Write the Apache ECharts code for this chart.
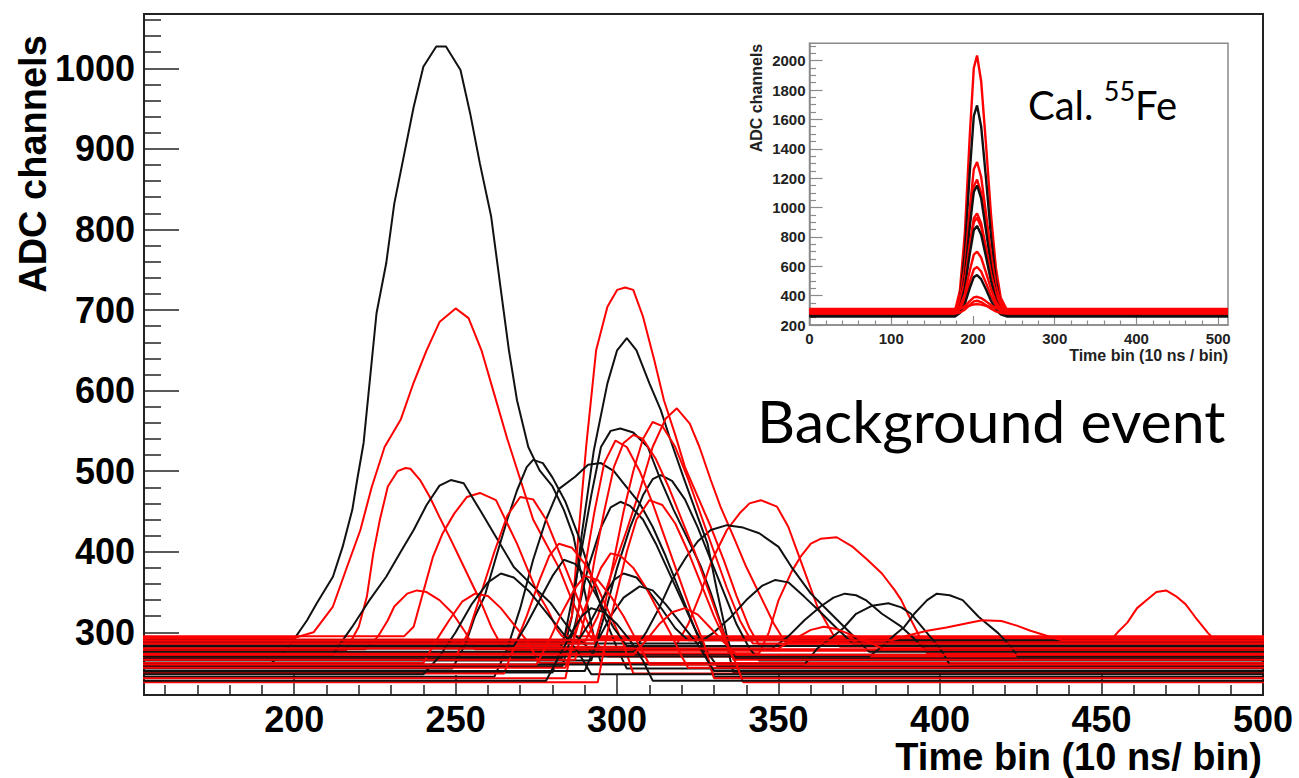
<!DOCTYPE html>
<html><head><meta charset="utf-8">
<script src="https://cdn.jsdelivr.net/npm/echarts@6/dist/echarts.min.js"></script>
<style>html,body{margin:0;padding:0;background:#fff}#c{width:1299px;height:778px}</style>
</head><body><div id="c"></div>
<script>
// ---------- tick values ----------
const xTicksMain = [200, 250, 300, 350, 400, 450, 500];
const xMinorMain = [160,170,180,190,210,220,230,240,260,270,280,290,310,320,330,340,360,370,380,390,410,420,430,440,460,470,480,490];
const yTicksMain = [300, 400, 500, 600, 700, 800, 900, 1000];
const yMinorMain = [240,260,280,320,340,360,380,420,440,460,480,520,540,560,580,620,640,660,680,720,740,760,780,820,840,860,880,920,940,960,980,1020,1040,1060];
const xTicksInset = [0, 100, 200, 300, 400, 500];
const xMinorInset = [20,40,60,80,120,140,160,180,220,240,260,280,320,340,360,380,420,440,460,480];
const yTicksInset = [200, 400, 600, 800, 1000, 1200, 1400, 1600, 1800, 2000];
const yMinorInset = [250,300,350,450,500,550,650,700,750,850,900,950,1050,1100,1150,1250,1300,1350,1450,1500,1550,1650,1700,1750,1850,1900,1950,2050,2100];

// ---------- main panel: black traces (time bin, ADC) ----------
const B1 = [[193,262],[198,280],[204,315],[207,336],[212,369],[215,406],[218,452],[219.5,489],[221.5,535],[225.5,696],[228.5,758],[231,832],[233.5,882],[237,952],[240,1002],[244,1027],[247,1027],[251.5,998],[254.5,944],[257.5,882],[261,816],[264,725],[266.5,650],[269,588],[272.5,530],[276,501],[280,481],[283.5,452],[286.5,419],[290,350],[293,290],[295,262]];
const B2 = [[283,268],[286,320],[289,420],[292.8,526],[297,609],[300,650],[303,665],[306,650],[310,609],[313.5,576],[316.5,539],[320.5,493],[325,443],[328,410],[331,350],[334,295],[336,268]];
const B3 = [[280,250],[284,300],[288,380],[292,470],[295,530],[298,550],[301,553],[305,548],[309.5,530],[313.5,489],[317.5,452],[321.5,419],[326,381],[329,349],[333,300],[336,250]];
const B4 = [[249,255],[253,285],[256,320],[259,345],[263,400],[266,440],[269,476],[272,505],[274,514],[277,510],[280,492],[284,462],[288,420],[292,370],[296,320],[300,280],[303,255]];
const B5 = [[262,245],[266,280],[270,330],[274,390],[278,440],[282,478],[287,493],[291,508],[295,510],[299,500],[302,485],[307,460],[311,431],[315,395],[319,355],[323,315],[327,275],[330,245]];
const B6 = [[212,272],[215,290],[218,307],[223,338],[228.5,369],[233,400],[237,427],[241,458],[245,482],[248.5,489],[252.5,485],[257.5,452],[263,415],[268,381],[274,357],[279.5,336],[282.5,319],[286,300],[290,285],[293,272]];
const B7 = [[283,258],[287,310],[291,380],[295,430],[298,455],[301,462],[304,457],[308,440],[312,410],[316,375],[320,340],[324,305],[328,275],[331,258]];
const B8 = [[292,265],[296,320],[300,380],[304,430],[308,470],[311,490],[313.5,495],[317,488],[321,465],[325,430],[329,390],[333,350],[337,310],[341,280],[344,265]];
const B9 = [[305,276],[309,300],[313,330],[317,365],[321.5,394],[325,413],[329,427],[334,433],[339,430],[344,423],[350,406],[354,381],[360,348],[366,324],[372,300],[378,276]];
const B10 = [[325,286],[330,300],[335,318],[340,340],[345,358],[349,365],[353,362],[358,344],[363,325],[368,305],[373,286]];
const B11 = [[348,280],[353,295],[358,315],[363,332],[367,343],[370.5,348],[374,346],[377,340],[382,323],[388,307],[392,292],[395,280]];
const B12 = [[358,260],[362,280],[366,292],[370,305],[374,323],[379,333],[384,336],[388,331],[391,323],[396,299],[400,280],[403,260]];
const B13 = [[378,270],[382,282],[386,297],[389,307],[392,323],[396,340],[399,348],[403,346],[407,340],[412,319],[418,299],[422,282],[424,270]];
const B14 = [[240,248],[245,270],[250,300],[255,335],[260,362],[264,373],[268,368],[273,350],[278,325],[283,300],[288,275],[292,248]];
const B15 = [[268,283],[272,310],[276,340],[280,370],[283.5,390],[287,385],[291,365],[295,335],[299,305],[303,283]];
const B16 = [[288,290],[292,315],[296,345],[299,365],[302,373],[306,368],[310,350],[314,328],[318,305],[322,290]];
const B17 = [[290,252],[294,290],[298,320],[302,343],[307,357],[311,352],[315,335],[320,310],[325,285],[330,252]];
const B18 = [[278,240],[282,270],[286,300],[289,320],[292,330],[296,325],[300,310],[304,290],[308,265],[311,240]];

// ---------- main panel: red traces ----------
const R1 = [[200,293],[206,300],[212,332],[216,377],[220.5,427],[224,480],[228,530],[233,564],[237,610],[241,650],[245,685],[250,702],[254,690],[258,650],[262,595],[266,540],[270,490],[274,440],[278,410],[282,380],[286,340],[290,305],[292,293]];
const R2 = [[283,284],[286,320],[288,420],[290.5,534],[293.5,650],[297,704],[300,725],[302.5,728],[305,725],[308,692],[311.5,638],[314.5,588],[318,545],[321,505],[325,468],[329,431],[333,390],[337,345],[341,305],[344,284]];
const R3 = [[290,288],[294,320],[298,370],[303,427],[307,476],[311,530],[315,565],[318.5,578],[322.5,559],[325.5,530],[329,489],[332,456],[336,419],[340,381],[344.5,344],[348.5,311],[352,288]];
const R4 = [[216,277],[220,307],[222.5,344],[224.5,398],[226.5,439],[229,481],[232,500],[234.5,504],[236,503],[239,489],[242,468],[245,443],[248.5,415],[251.5,390],[254.5,365],[258,336],[261,307],[264,285],[266,277]];
const R5 = [[234,295],[237,307],[239,336],[241,365],[243,394],[246,423],[249.5,447],[253.5,468],[257.5,473],[262.5,464],[266,435],[269,410],[272,381],[275,352],[278.5,328],[281.5,303],[283,295]];
const R6 = [[318,282],[322,310],[326,350],[329,386],[334,427],[338,448],[341,460],[344.5,464],[349.5,456],[353,431],[356,398],[359,365],[362,332],[365.5,307],[369,282]];
const R7 = [[344,274],[347,300],[350,340],[354,375],[357,395],[360,410],[363,416],[368,418],[373,406],[377.5,390],[382,373],[386,352],[388,340],[390,323],[393,300],[396,274]];
const R8 = [[453,291],[455,300],[458,312],[461,330],[464,340],[467,350],[470,352],[473,345],[476,335],[479,319],[483,299],[485,291]];
const R9 = [[222,279],[226,295],[229,315],[231,332],[235,348],[238,352],[241,350],[245,340],[249,324],[253,300],[256,279]];
const R10 = [[250,270],[254,300],[258,350],[262,400],[266,445],[270,468],[274,465],[278,440],[282,400],[286,360],[290,320],[294,285],[297,270]];
const R11 = [[240,262],[244,290],[248,315],[252,338],[256,348],[260,345],[264,330],[268,310],[272,290],[276,262]];
const R12 = [[265,249],[268,280],[272,320],[276,365],[279,395],[282,410],[286,405],[290,385],[294,355],[298,320],[302,285],[305,249]];
const R13 = [[287,266],[290,320],[293,390],[296,450],[299,505],[302,535],[305,545],[308,540],[312,515],[316,480],[320,440],[324,400],[328,355],[332,310],[336,266]];
const R14 = [[293,286],[296,330],[299,390],[302,450],[305,500],[308,540],[311,561],[314,556],[318,530],[322,490],[326,445],[330,400],[334,355],[338,315],[342,286]];
const R15 = [[284,243],[287,300],[290,380],[293,450],[296,510],[299.5,538],[303,530],[307,500],[311,460],[315,415],[319,370],[323,325],[327,285],[330,243]];
const R16 = [[284,256],[288,310],[292,350],[295,380],[298,398],[301,395],[305,380],[309,355],[313,325],[317,295],[320,270],[322,256]];
const R17 = [[294,238],[297,300],[300,350],[303,400],[306,440],[310,464],[314,458],[318,435],[322,400],[326,360],[330,320],[334,285],[337,260],[339,238]];
const R18 = [[385,290],[390,296],[396,302],[402,306],[408,311],[413,315],[419,314],[424,308],[428,302],[432,297],[436,292],[438,290]];
const R19 = [[350,280],[355,292],[360,303],[364,307],[368,304],[373,296],[378,288],[382,280]];
const R20 = [[275,260],[279,290],[283,325],[287,355],[290,370],[294,365],[298,345],[302,320],[306,290],[310,260]];
const R21 = [[305,272],[309,290],[313,310],[317,325],[321,330],[325,322],[329,305],[333,288],[337,272]];

// ---------- inset (55Fe calibration) ----------
const I1 = [[178,296],[184,435],[190,820],[196,1480],[201,1950],[205,2035],[210,1860],[216,1425],[222,955],[228,590],[234,385],[242,296]];
const I2 = [[178,262],[184,377],[190,692],[196,1236],[201,1623],[205,1695],[210,1552],[216,1193],[222,807],[228,506],[234,334],[242,262]];
const I3 = [[178,300],[184,381],[190,603],[196,987],[201,1260],[205,1310],[210,1209],[216,957],[222,684],[228,472],[234,351],[242,300]];
const I4 = [[178,284],[184,356],[190,556],[196,900],[201,1145],[205,1190],[210,1099],[216,873],[222,628],[228,438],[234,329],[242,284]];
const I5 = [[178,266],[184,337],[190,531],[196,867],[201,1106],[205,1150],[210,1062],[216,841],[222,602],[228,416],[234,310],[242,266]];
const I6 = [[178,292],[184,345],[190,492],[196,746],[201,927],[205,960],[210,893],[216,726],[222,546],[228,406],[234,325],[242,292]];
const I7 = [[178,306],[184,356],[190,493],[196,730],[201,899],[205,930],[210,868],[216,712],[222,543],[228,412],[234,337],[242,306]];
const I8 = [[178,270],[184,318],[190,452],[196,681],[201,845],[205,875],[210,815],[216,663],[222,500],[228,373],[234,300],[242,270]];
const I9 = [[178,288],[184,321],[190,412],[196,568],[201,679],[205,700],[210,659],[216,556],[222,445],[228,358],[234,309],[242,288]];
const I10 = [[178,280],[184,305],[190,375],[196,494],[201,579],[205,595],[210,564],[216,485],[222,400],[228,334],[234,296],[242,280]];
const I11 = [[178,258],[184,281],[190,343],[196,450],[201,526],[205,540],[210,512],[216,441],[222,365],[228,306],[234,272],[242,258]];
const I12 = [[178,302],[184,309],[190,329],[196,363],[201,388],[205,392],[210,383],[216,361],[222,336],[228,317],[234,306],[242,302]];
const I13 = [[178,278],[184,285],[190,304],[196,337],[201,361],[205,365],[210,356],[216,335],[222,311],[228,293],[234,282],[242,278]];
const I14 = [[178,310],[184,313],[190,320],[196,332],[201,340],[205,342],[210,339],[216,331],[222,322],[228,315],[234,312],[242,310]];

const blackMain = [B1,B2,B3,B4,B5,B6,B7,B8,B9,B10,B11,B12,B13,B14,B15,B16,B17,B18];
const redMain = [R1,R2,R3,R4,R5,R6,R7,R8,R9,R10,R11,R12,R13,R14,R15,R16,R17,R18,R19,R20,R21];
const insetTraces = [[I1,'r'],[I2,'k'],[I3,'r'],[I4,'r'],[I5,'k'],[I6,'r'],[I7,'r'],[I8,'k'],[I9,'r'],[I10,'r'],[I11,'k'],[I12,'r'],[I13,'r'],[I14,'r']];

const RED = '#ff0000', BLK = '#111111';
const HIST_LO = 0, HIST_HI = 512;
function full(pts){ return [[HIST_LO, pts[0][1]], ...pts, [HIST_HI, pts[pts.length-1][1]]]; }

const series = [];
const n = Math.max(blackMain.length, redMain.length);
for (let i = 0; i < n; i++) {
  if (blackMain[i]) series.push({type:'line', xAxisIndex:0, yAxisIndex:0, data: full(blackMain[i]), showSymbol:false, symbol:'none', lineStyle:{color:BLK, width:2}, silent:true});
  if (redMain[i]) series.push({type:'line', xAxisIndex:0, yAxisIndex:0, data: full(redMain[i]), showSymbol:false, symbol:'none', lineStyle:{color:RED, width:2}, silent:true});
}
insetTraces.forEach(([pts, c]) => {
  series.push({type:'line', xAxisIndex:2, yAxisIndex:2, data: full(pts), showSymbol:false, symbol:'none', lineStyle:{color: c==='r'?RED:BLK, width:2.4}, silent:true});
});

const plain = v => String(v);
const mainFont = {fontFamily:'Liberation Sans', fontWeight:'bold', fontSize:36, color:'#000', formatter: plain};
const insetFont = {fontFamily:'Liberation Sans', fontWeight:'bold', fontSize:15, color:'#222', formatter: plain};
const MAINC = '#222', INC = '#8a8a8a';

const option = {
  animation: false,
  backgroundColor: '#fff',
  grid: [
    {left:144, top:14, width:1119, height:681, show:true, borderColor:MAINC, borderWidth:2, backgroundColor:'transparent'},
    {left:809.5, top:43.3, width:418.5, height:281.7, show:true, borderColor:INC, borderWidth:1.5, backgroundColor:'#fff'}
  ],
  xAxis: [
    {gridIndex:0, type:'value', min:153.5, max:500, axisLine:{show:true, lineStyle:{color:MAINC, width:2}},
     axisTick:{show:true, inside:true, length:20, customValues:xTicksMain, lineStyle:{color:MAINC, width:1.5}},
     axisLabel:Object.assign({customValues:xTicksMain, margin:6, showMinLabel:true, showMaxLabel:true}, mainFont), splitLine:{show:false}},
    {gridIndex:0, type:'value', min:153.5, max:500, position:'bottom', axisLine:{show:false},
     axisTick:{show:true, inside:true, length:10, customValues:xMinorMain, lineStyle:{color:MAINC, width:1.5}},
     axisLabel:{show:false}, splitLine:{show:false}},
    {gridIndex:1, type:'value', min:0, max:512, axisLine:{show:true, lineStyle:{color:INC, width:1.5}},
     axisTick:{show:true, inside:true, length:9, customValues:xTicksInset, lineStyle:{color:INC, width:1.2}},
     axisLabel:Object.assign({customValues:xTicksInset, margin:6}, insetFont), splitLine:{show:false}},
    {gridIndex:1, type:'value', min:0, max:512, position:'bottom', axisLine:{show:false},
     axisTick:{show:true, inside:true, length:4.5, customValues:xMinorInset, lineStyle:{color:INC, width:1.2}},
     axisLabel:{show:false}, splitLine:{show:false}}
  ],
  yAxis: [
    {gridIndex:0, type:'value', min:222.2, max:1067.4, axisLine:{show:true, lineStyle:{color:MAINC, width:2}},
     axisTick:{show:true, inside:true, length:35, customValues:yTicksMain, lineStyle:{color:MAINC, width:1.5}},
     axisLabel:Object.assign({customValues:yTicksMain, margin:9}, mainFont), splitLine:{show:false}},
    {gridIndex:0, type:'value', min:222.2, max:1067.4, position:'left', axisLine:{show:false},
     axisTick:{show:true, inside:true, length:17, customValues:yMinorMain, lineStyle:{color:MAINC, width:1.5}},
     axisLabel:{show:false}, splitLine:{show:false}},
    {gridIndex:1, type:'value', min:200, max:2118, axisLine:{show:true, lineStyle:{color:INC, width:1.5}},
     axisTick:{show:true, inside:true, length:13, customValues:yTicksInset, lineStyle:{color:INC, width:1.2}},
     axisLabel:Object.assign({customValues:yTicksInset, margin:4}, insetFont), splitLine:{show:false}},
    {gridIndex:1, type:'value', min:200, max:2118, position:'left', axisLine:{show:false},
     axisTick:{show:true, inside:true, length:6.5, customValues:yMinorInset, lineStyle:{color:INC, width:1.2}},
     axisLabel:{show:false}, splitLine:{show:false}}
  ],
  series: series,
  graphic: [
    {type:'text', x:33, y:164, rotation:Math.PI/2, z:50,
     style:{text:'ADC channels', font:'bold 38px "Liberation Sans"', fill:'#000', align:'center', verticalAlign:'middle'}},
    {type:'text', x:1262, y:757, z:50,
     style:{text:'Time bin (10 ns/ bin)', font:'bold 38px "Liberation Sans"', fill:'#000', align:'right', verticalAlign:'middle'}},
    {type:'text', x:756, y:98, rotation:Math.PI/2, z:50,
     style:{text:'ADC channels', font:'bold 16px "Liberation Sans"', fill:'#222', align:'center', verticalAlign:'middle'}},
    {type:'text', x:1228, y:355, z:50,
     style:{text:'Time bin (10 ns / bin)', font:'bold 16px "Liberation Sans"', fill:'#222', align:'right', verticalAlign:'middle'}},
    {type:'text', x:757, y:420, z:50,
     style:{text:'Background event', font:'59px Lato', fill:'#000', align:'left', verticalAlign:'middle'}},
    {type:'text', x:1028, y:101, z:50,
     style:{text:'{a|Cal. }{s|55}{a|Fe}', fill:'#000', align:'left', verticalAlign:'middle',
       rich:{a:{fontFamily:'Lato', fontSize:40, lineHeight:48, verticalAlign:'bottom'},
             s:{fontFamily:'Lato', fontSize:27, lineHeight:32, verticalAlign:'top'}}}}
  ]
};
const chart = echarts.init(document.getElementById('c'), null, {renderer:'svg'});
chart.setOption(option);
</script>
</body></html>
